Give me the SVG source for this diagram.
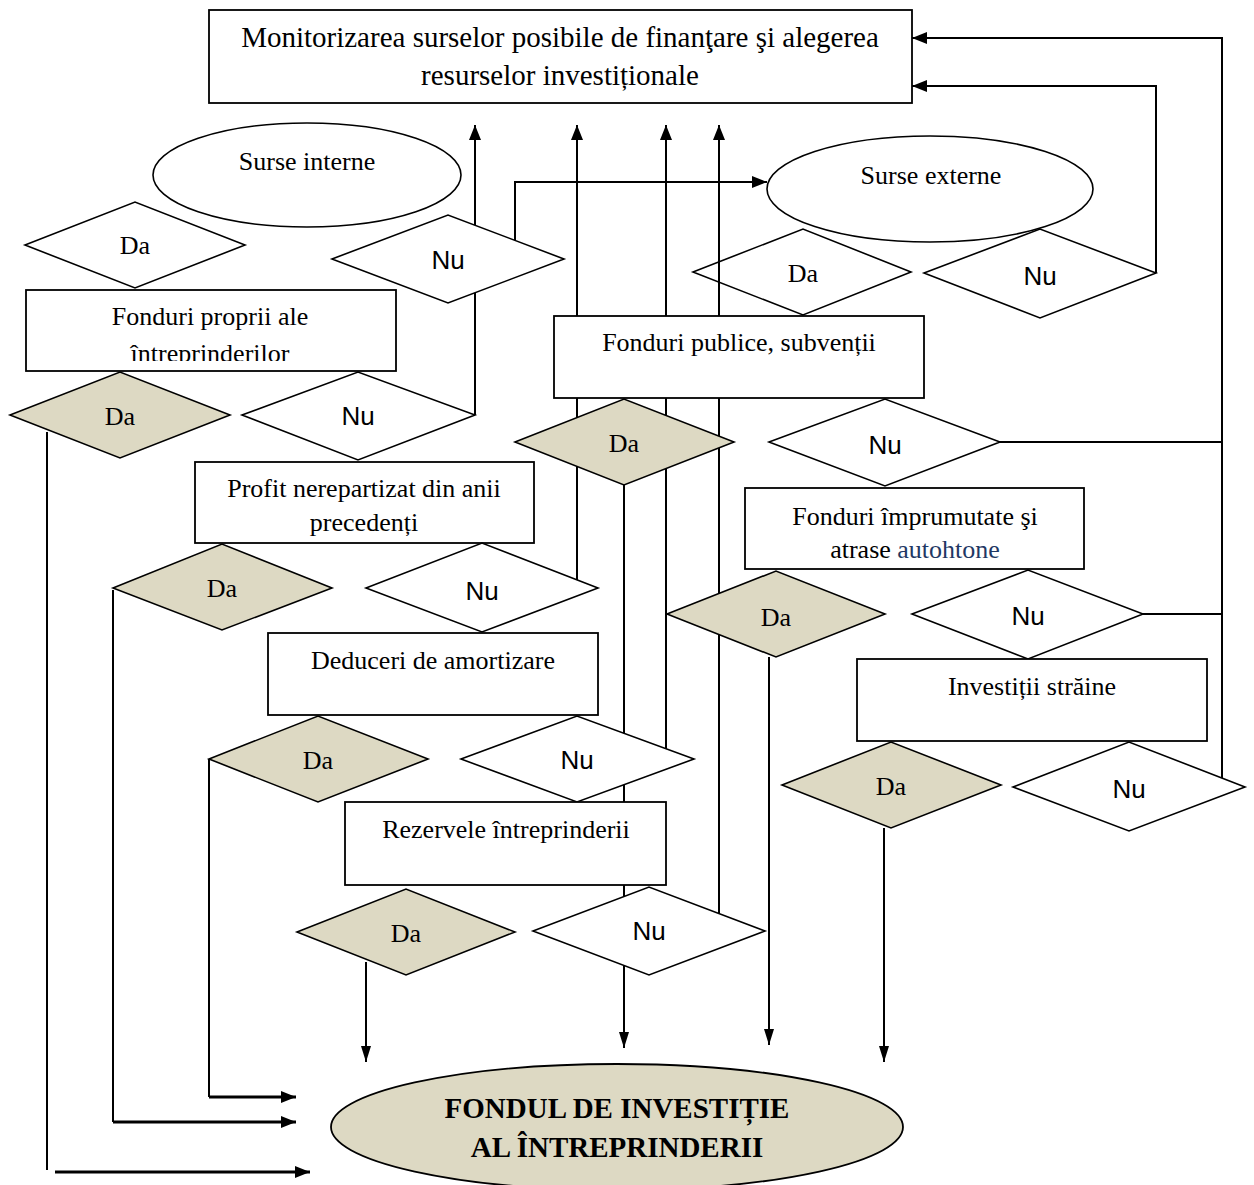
<svg xmlns="http://www.w3.org/2000/svg" width="1254" height="1185" viewBox="0 0 1254 1185">
<defs>
<style>
.box{fill:#fff;stroke:#000;stroke-width:1.8}
.dw{fill:#fff;stroke:#000;stroke-width:1.6}
.dn{fill:none;stroke:#000;stroke-width:1.6}
.dt{fill:#DDD9C3;stroke:#000;stroke-width:1.6}
.ell{fill:#fff;stroke:#000;stroke-width:1.6}
.c{fill:none;stroke:#000;stroke-width:2}
.ct{fill:none;stroke:#000;stroke-width:3}
.t{font-family:"Liberation Serif","Times New Roman",serif;font-size:26px;fill:#000;text-anchor:middle}
.tt{font-family:"Liberation Serif","Times New Roman",serif;font-size:29px;fill:#000;text-anchor:middle}
.s{font-family:"Liberation Sans",Arial,sans-serif;font-size:26px;fill:#000;text-anchor:middle}
.b{font-family:"Liberation Serif","Times New Roman",serif;font-size:29px;font-weight:bold;fill:#000;text-anchor:middle}
</style>
<marker id="ah" viewBox="0 0 15 12" refX="15" refY="6" markerWidth="15" markerHeight="12" markerUnits="userSpaceOnUse" orient="auto"><path d="M0,0 L15,6 L0,12 Z" fill="#000"/></marker>
<marker id="ahs" viewBox="0 0 16 10" refX="16" refY="5" markerWidth="16" markerHeight="10" markerUnits="userSpaceOnUse" orient="auto"><path d="M0,0 L16,5 L0,10 Z" fill="#000"/></marker>
<clipPath id="clip1"><rect x="26" y="290" width="370" height="71"/></clipPath>
</defs>

<g id="connectors">
<path class="c" d="M475,415 V125" marker-end="url(#ah)"/>
<path class="c" d="M577,580 V125" marker-end="url(#ah)"/>
<path class="c" d="M666,749 V125" marker-end="url(#ah)"/>
<path class="c" d="M719,913 V125" marker-end="url(#ah)"/>
<path class="c" d="M515,240 V182 H767" marker-end="url(#ah)"/>
<path class="c" d="M1156,273 V86 H912" marker-end="url(#ah)"/>
<path class="c" d="M1222,778 V38 H912" marker-end="url(#ah)"/>
<path class="c" d="M1000,442 H1222"/>
<path class="c" d="M1143,614 H1222"/>
<path class="c" d="M624,485 V1048" marker-end="url(#ahs)"/>
<path class="c" d="M769,657 V1045" marker-end="url(#ahs)"/>
<path class="c" d="M884,828 V1062" marker-end="url(#ahs)"/>
<path class="c" d="M366,962 V1062" marker-end="url(#ahs)"/>
<path class="c" d="M209,759 V1097"/>
<path class="ct" d="M209,1097 H296" marker-end="url(#ah)"/>
<path class="c" d="M113,590 V1122"/>
<path class="ct" d="M113,1122 H296" marker-end="url(#ah)"/>
<path class="c" d="M47,432 V1170"/>
<path class="ct" d="M55,1172 H310" marker-end="url(#ah)"/>
</g>

<g id="n-monitor">
<rect class="box" x="209" y="10" width="703" height="93"/>
<text class="tt" x="560" y="47">Monitorizarea surselor posibile de finanţare şi alegerea</text>
<text class="tt" x="560" y="85">resurselor investiționale</text>
</g>

<g id="n-surse-interne">
<ellipse class="ell" cx="307" cy="175" rx="154" ry="52"/>
<text class="t" x="307" y="170">Surse interne</text>
</g>

<g id="n-surse-externe">
<ellipse class="ell" cx="930" cy="189" rx="163" ry="53"/>
<text class="t" x="931" y="184">Surse externe</text>
</g>

<g id="n-da-int">
<polygon class="dw" points="25,245 135,202 245,245 135,288"/>
<text class="t" x="135" y="254">Da</text>
</g>
<g id="n-nu-int">
<polygon class="dw" points="332,259 448,215 564,259 448,303"/>
<text class="s" x="448" y="269">Nu</text>
</g>
<g id="n-da-ext">
<polygon class="dn" points="693,272 803,229 911,272 803,315"/>
<text class="t" x="803" y="282">Da</text>
</g>
<g id="n-nu-ext">
<polygon class="dn" points="924,273 1040,229 1156,273 1040,318"/>
<text class="s" x="1040" y="285">Nu</text>
</g>

<g id="n-fonduri-proprii">
<rect class="box" x="26" y="290" width="370" height="81"/>
<text class="t" x="210" y="325">Fonduri proprii ale</text>
<text class="t" x="210" y="362" clip-path="url(#clip1)">întreprinderilor</text>
</g>
<g id="n-da-1">
<polygon class="dt" points="10,415 120,372 230,415 120,458"/>
<text class="t" x="120" y="425">Da</text>
</g>
<g id="n-nu-1">
<polygon class="dw" points="242,415 358,372 475,415 358,460"/>
<text class="s" x="358" y="425">Nu</text>
</g>

<g id="n-profit">
<rect class="box" x="195" y="462" width="339" height="81"/>
<text class="t" x="364" y="497">Profit nerepartizat din anii</text>
<text class="t" x="364" y="531">precedenți</text>
</g>
<g id="n-da-2">
<polygon class="dt" points="113,588 222,544 332,588 222,630"/>
<text class="t" x="222" y="597">Da</text>
</g>
<g id="n-nu-2">
<polygon class="dw" points="366,588 482,543 598,588 482,632"/>
<text class="s" x="482" y="600">Nu</text>
</g>

<g id="n-deduceri">
<rect class="box" x="268" y="633" width="330" height="82"/>
<text class="t" x="433" y="669">Deduceri de amortizare</text>
</g>
<g id="n-da-3">
<polygon class="dt" points="209,759 318,716 428,759 318,802"/>
<text class="t" x="318" y="769">Da</text>
</g>
<g id="n-nu-3">
<polygon class="dw" points="461,759 577,716 694,759 577,802"/>
<text class="s" x="577" y="769">Nu</text>
</g>

<g id="n-rezervele">
<rect class="box" x="345" y="802" width="321" height="83"/>
<text class="t" x="506" y="838">Rezervele întreprinderii</text>
</g>
<g id="n-da-4">
<polygon class="dt" points="297,932 406,889 515,932 406,975"/>
<text class="t" x="406" y="942">Da</text>
</g>
<g id="n-nu-4">
<polygon class="dw" points="533,931 649,887 765,931 649,975"/>
<text class="s" x="649" y="940">Nu</text>
</g>

<g id="n-publice">
<rect class="box" x="554" y="316" width="370" height="82"/>
<text class="t" x="739" y="351">Fonduri publice, subvenții</text>
</g>
<g id="n-da-5">
<polygon class="dt" points="515,442 624,399 734,442 624,485"/>
<text class="t" x="624" y="452">Da</text>
</g>
<g id="n-nu-5">
<polygon class="dw" points="769,442 885,399 1000,442 885,486"/>
<text class="s" x="885" y="454">Nu</text>
</g>

<g id="n-imprumutate">
<rect class="box" x="745" y="488" width="339" height="81"/>
<text class="t" x="915" y="525">Fonduri împrumutate şi</text>
<text class="t" x="915" y="558">atrase <tspan fill="#1F3864">autohtone</tspan></text>
</g>
<g id="n-da-6">
<polygon class="dt" points="667,614 776,571 885,614 776,657"/>
<text class="t" x="776" y="626">Da</text>
</g>
<g id="n-nu-6">
<polygon class="dw" points="912,614 1028,570 1143,614 1028,659"/>
<text class="s" x="1028" y="625">Nu</text>
</g>

<g id="n-straine">
<rect class="box" x="857" y="659" width="350" height="82"/>
<text class="t" x="1032" y="695">Investiții străine</text>
</g>
<g id="n-da-7">
<polygon class="dt" points="782,785 891,742 1001,785 891,828"/>
<text class="t" x="891" y="795">Da</text>
</g>
<g id="n-nu-7">
<polygon class="dw" points="1013,787 1129,742 1245,787 1129,831"/>
<text class="s" x="1129" y="798">Nu</text>
</g>

<g id="n-fondul">
<ellipse cx="617" cy="1127" rx="286" ry="63" fill="#DDD9C3" stroke="#000" stroke-width="1.8"/>
<text class="b" x="617" y="1118">FONDUL DE INVESTIȚIE</text>
<text class="b" x="617" y="1157">AL ÎNTREPRINDERII</text>
</g>
</svg>
